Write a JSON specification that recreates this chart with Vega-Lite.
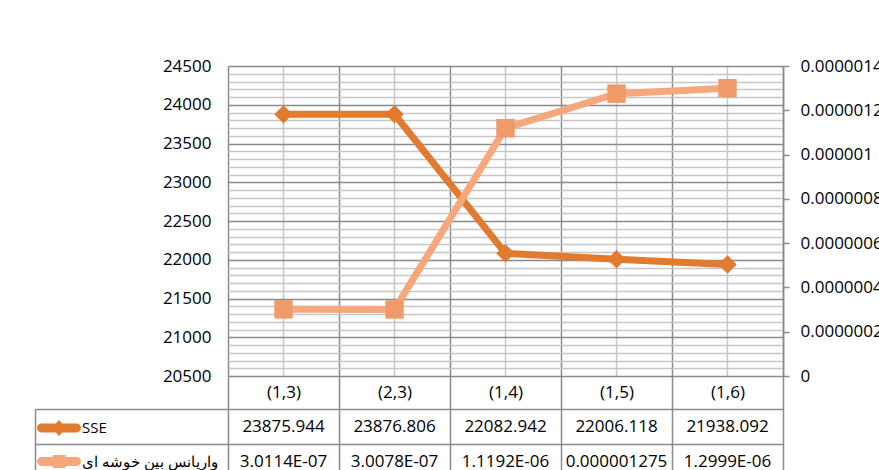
{
  "$schema": "https://vega.github.io/schema/vega-lite/v6.json",
  "padding": {"left": 34, "top": 57, "right": 0, "bottom": 0},
  "background": "white",
  "spacing": 33,
  "bounds": "flush",
  "config": {
    "view": {"stroke": null},
    "font": "Open Sans",
    "axis": {"labelFont": "Open Sans", "labelFontSize": 17, "labelColor": "#000000"}
  },
  "datasets": {
    "rows": [
      {"cat": "(1,3)", "series": "SSE", "value": 23875.944, "text": "23875.944"},
      {"cat": "(2,3)", "series": "SSE", "value": 23876.806, "text": "23876.806"},
      {"cat": "(1,4)", "series": "SSE", "value": 22082.942, "text": "22082.942"},
      {"cat": "(1,5)", "series": "SSE", "value": 22006.118, "text": "22006.118"},
      {"cat": "(1,6)", "series": "SSE", "value": 21938.092, "text": "21938.092"},
      {"cat": "(1,3)", "series": "واریانس بین خوشه ای", "value": 3.0114e-7, "text": "3.0114E-07"},
      {"cat": "(2,3)", "series": "واریانس بین خوشه ای", "value": 3.0078e-7, "text": "3.0078E-07"},
      {"cat": "(1,4)", "series": "واریانس بین خوشه ای", "value": 1.1192e-6, "text": "1.1192E-06"},
      {"cat": "(1,5)", "series": "واریانس بین خوشه ای", "value": 1.275e-6, "text": "0.000001275"},
      {"cat": "(1,6)", "series": "واریانس بین خوشه ای", "value": 1.2999e-6, "text": "1.2999E-06"}
    ]
  },
  "vconcat": [
    {
      "width": 555,
      "height": 310,
      "data": {"name": "rows"},
      "layer": [
        {
          "transform": [{"filter": "datum.series === 'SSE'"}],
          "mark": {"type": "line", "color": "#E07B30", "strokeWidth": 7, "point": {"shape": "diamond", "size": 340, "filled": true, "color": "#E07B30", "opacity": 1}},
          "encoding": {
            "x": {"field": "cat", "type": "nominal", "sort": ["(1,3)", "(2,3)", "(1,4)", "(1,5)", "(1,6)"], "bandPosition": 0.5,
              "scale": {"type": "band", "paddingInner": 0, "paddingOuter": 0},
              "axis": {"orient": "bottom", "tickBand": "extent", "ticks": true, "tickSize": 33, "tickColor": "#8a8a8a", "tickWidth": 1.5,
                "grid": true, "gridColor": "#8a8a8a", "gridWidth": 1.5, "domain": false, "labelBaseline": "middle", "labelPadding": -17, "labelAngle": 0, "title": null}},
            "y": {"field": "value", "type": "quantitative",
              "scale": {"domain": [20500, 24500], "nice": false, "zero": false},
              "axis": {"orient": "left", "values": [20500,20600,20700,20800,20900,21000,21100,21200,21300,21400,21500,21600,21700,21800,21900,22000,22100,22200,22300,22400,22500,22600,22700,22800,22900,23000,23100,23200,23300,23400,23500,23600,23700,23800,23900,24000,24100,24200,24300,24400,24500],
                "format": "d", "labelExpr": "datum.value % 500 === 0 ? datum.label : ''", "labelOverlap": false,
                "grid": true, "gridColor": {"condition": {"test": "datum.value % 500 === 0", "value": "#8a8a8a"}, "value": "#c6c6c6"}, "gridWidth": 1.5,
                "ticks": false, "domain": false, "labelPadding": 17, "title": null}}
          }
        },
        {
          "transform": [{"filter": "datum.series !== 'SSE'"}],
          "mark": {"type": "line", "color": "#F6A77C", "strokeWidth": 7, "point": {"shape": "square", "size": 340, "filled": true, "color": "#F09A6A", "opacity": 1}},
          "encoding": {
            "x": {"field": "cat", "type": "nominal", "sort": ["(1,3)", "(2,3)", "(1,4)", "(1,5)", "(1,6)"], "bandPosition": 0.5,
              "scale": {"type": "band", "paddingInner": 0, "paddingOuter": 0},
              "axis": {"grid": true, "gridColor": "#c6c6c6", "gridWidth": 1.5, "labels": false, "ticks": false, "domain": false, "title": null}},
            "y": {"field": "value", "type": "quantitative",
              "scale": {"domain": [0, 1.4e-6], "nice": false, "zero": true},
              "axis": {"orient": "right", "values": [0, 2e-7, 4e-7, 6e-7, 8e-7, 1e-6, 1.2e-6, 1.4e-6], "format": ".7~f", "labelOverlap": false,
                "grid": false, "ticks": true, "tickSize": 6, "tickColor": "#8a8a8a", "tickWidth": 1.5,
                "domain": true, "domainColor": "#8a8a8a", "domainWidth": 1.5, "labelPadding": 11, "title": null}}
          }
        }
      ],
      "resolve": {"scale": {"y": "independent"}, "axis": {"x": "independent"}}
    },
    {
      "width": 555,
      "height": 70,
      "data": {"name": "rows"},
      "layer": [
        {
          "mark": {"type": "text", "font": "Open Sans", "fontSize": 17, "color": "#000000"},
          "encoding": {
            "x": {"field": "cat", "type": "nominal", "sort": ["(1,3)", "(2,3)", "(1,4)", "(1,5)", "(1,6)"], "bandPosition": 0.5,
              "scale": {"type": "band", "paddingInner": 0, "paddingOuter": 0},
              "axis": {"orient": "bottom", "labels": false, "ticks": false, "domain": false, "grid": true, "tickBand": "extent", "gridColor": "#8a8a8a", "gridWidth": 1.5, "title": null}},
            "y": {"field": "series", "type": "nominal", "bandPosition": 0.5,
              "scale": {"type": "band", "domain": ["SSE", "واریانس بین خوشه ای"], "paddingInner": 0, "paddingOuter": 0},
              "axis": {"orient": "left", "labels": false, "ticks": true, "tickBand": "extent", "tickSize": 193, "tickColor": "#8a8a8a", "tickWidth": 1.5,
                "grid": true, "gridColor": "#8a8a8a", "gridWidth": 1.5, "domain": false, "title": null}},
            "text": {"field": "text"}
          }
        },
        {
          "transform": [{"filter": "false"}],
          "mark": {"type": "point", "filled": true, "opacity": 1},
          "encoding": {
            "y": {"field": "series", "type": "nominal",
              "axis": {"orient": "left", "offset": 193, "labels": false, "ticks": false, "grid": false, "domain": true, "domainColor": "#8a8a8a", "domainWidth": 1.5, "title": null}},
            "color": {"field": "series", "type": "nominal",
              "scale": {"domain": ["SSE", "واریانس بین خوشه ای"], "range": ["#E07B30", "#F6A77C"]},
              "legend": {"orient": "none", "legendX": -177, "legendY": 354, "title": null, "padding": 0, "rowPadding": 17.5, "symbolSize": 256, "symbolStrokeWidth": 0,
                "labelFont": "Open Sans", "labelFontSize": 15, "labelColor": "#000000", "labelOffset": 15, "labelLimit": 300, "direction": "vertical"}},
            "shape": {"field": "series", "type": "nominal",
              "scale": {"domain": ["SSE", "واریانس بین خوشه ای"], "range": ["M-2.2,-0.55H2.2A0.55,0.55,0,0,1,2.2,0.55H-2.2A0.55,0.55,0,0,1,-2.2,-0.55Z M-0.9,0L0,-1L0.9,0L0,1Z", "M-2.2,-0.55H2.2A0.55,0.55,0,0,1,2.2,0.55H-2.2A0.55,0.55,0,0,1,-2.2,-0.55Z M-0.8,-0.8H0.8V0.8H-0.8Z"]},
              "legend": {"orient": "none", "legendX": -177, "legendY": 354, "title": null, "padding": 0, "rowPadding": 17.5, "symbolSize": 256, "symbolStrokeWidth": 0,
                "labelFont": "Open Sans", "labelFontSize": 15, "labelColor": "#000000", "labelOffset": 15, "labelLimit": 300, "direction": "vertical"}}
          }
        }
      ],
      "resolve": {"axis": {"y": "independent"}}
    }
  ]
}
